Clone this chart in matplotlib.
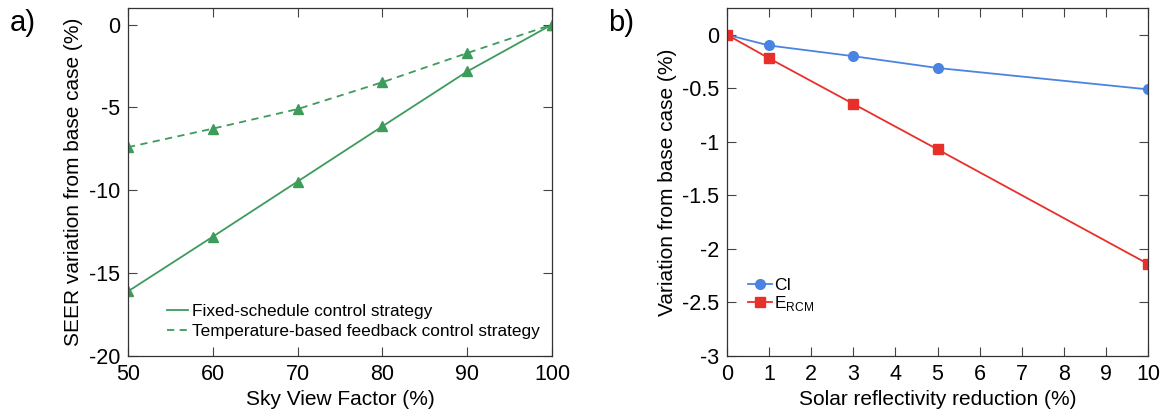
import numpy as np
import matplotlib
matplotlib.use('Agg')
import matplotlib.pyplot as plt
from matplotlib.lines import Line2D

plt.rcParams['font.family'] = ['Liberation Sans', 'DejaVu Sans']
plt.rcParams['axes.unicode_minus'] = False

# Panel a) : SEER vs sky view factor
svf = [50, 60, 70, 80, 90, 100]
seer_fixed = [-16.1, -12.8, -9.47, -6.14, -2.83, 0.0]
seer_temp = [-7.4, -6.28, -5.1, -3.48, -1.72, 0.0]

# Panel b) : variation vs solar reflectivity reduction
refl = [0, 1, 3, 5, 10]
ci = [0.0, -0.10, -0.20, -0.31, -0.51]
ercm = [0.0, -0.22, -0.645, -1.07, -2.14]

green = '#3d9b5c'
blue = '#4a84e2'
red = '#e8302a'
dash = (4, 3)

W, H = 1164, 419
fig = plt.figure(figsize=(W/100, H/100), dpi=100)
ax0 = fig.add_axes([128/W, 63/H, 424/W, 348/H])
ax1 = fig.add_axes([727/W, 63/H, 421/W, 348/H])

# a)
ax0.plot(svf, seer_fixed, '-', color=green, lw=1.3, marker='^', ms=6.5)
ax0.plot(svf, seer_temp, '--', color=green, lw=1.3, marker='^', ms=6.5, dashes=dash)
ax0.set_xlim(50, 100)
ax0.set_ylim(-20, 1)
ax0.set_xticks([50, 60, 70, 80, 90, 100])
ax0.set_yticks([0, -5, -10, -15, -20])
ax0.set_xlabel('Sky View Factor (%)', fontsize=15, labelpad=4)
ax0.set_ylabel('SEER variation from base case (%)', fontsize=15, labelpad=4)
hl = [Line2D([], [], color=green, lw=1.3, ls='-'),
      Line2D([], [], color=green, lw=1.3, ls='--', dashes=dash)]
ax0.legend(hl, ['Fixed-schedule control strategy',
                'Temperature-based feedback control strategy'],
           loc='lower left', bbox_to_anchor=(0.092, 0.05), frameon=False,
           fontsize=12.4, handlelength=1.2, handletextpad=0.25, labelspacing=0.25,
           borderaxespad=0, borderpad=0)
fig.text(10/W, 1-23/H, 'a)', fontsize=21, va='center', ha='left')

# b)
ax1.plot(refl, ci, '-', color=blue, lw=1.3, marker='o', ms=7, label='CI')
ax1.plot(refl, ercm, '-', color=red, lw=1.3, marker='s', ms=6.5,
         label='E$_{\\mathregular{RCM}}$')
ax1.set_xlim(0, 10)
ax1.set_ylim(-3, 0.25)
ax1.set_xticks(range(0, 11))
ax1.set_yticks([0, -0.5, -1, -1.5, -2, -2.5, -3])
ax1.set_yticklabels(['0', '-0.5', '-1', '-1.5', '-2', '-2.5', '-3'])
ax1.set_xlabel('Solar reflectivity reduction (%)', fontsize=15, labelpad=4)
ax1.set_ylabel('Variation from base case (%)', fontsize=15, labelpad=4)
ax1.legend(loc='upper left', bbox_to_anchor=(0.05, 0.225), frameon=False,
           fontsize=12.4, handlelength=1.4, handletextpad=0.1, labelspacing=0.1,
           borderaxespad=0, borderpad=0)
fig.text(608/W, 1-23/H, 'b)', fontsize=21, va='center', ha='left')

for ax in (ax0, ax1):
    ax.tick_params(direction='in', top=True, right=True, labelsize=15.5,
                   length=6.5, width=0.8, color='#444444', pad=5.5)
    for s in ax.spines.values():
        s.set_color('#333333')
        s.set_linewidth(0.9)

fig.savefig('out.png', dpi=100)
